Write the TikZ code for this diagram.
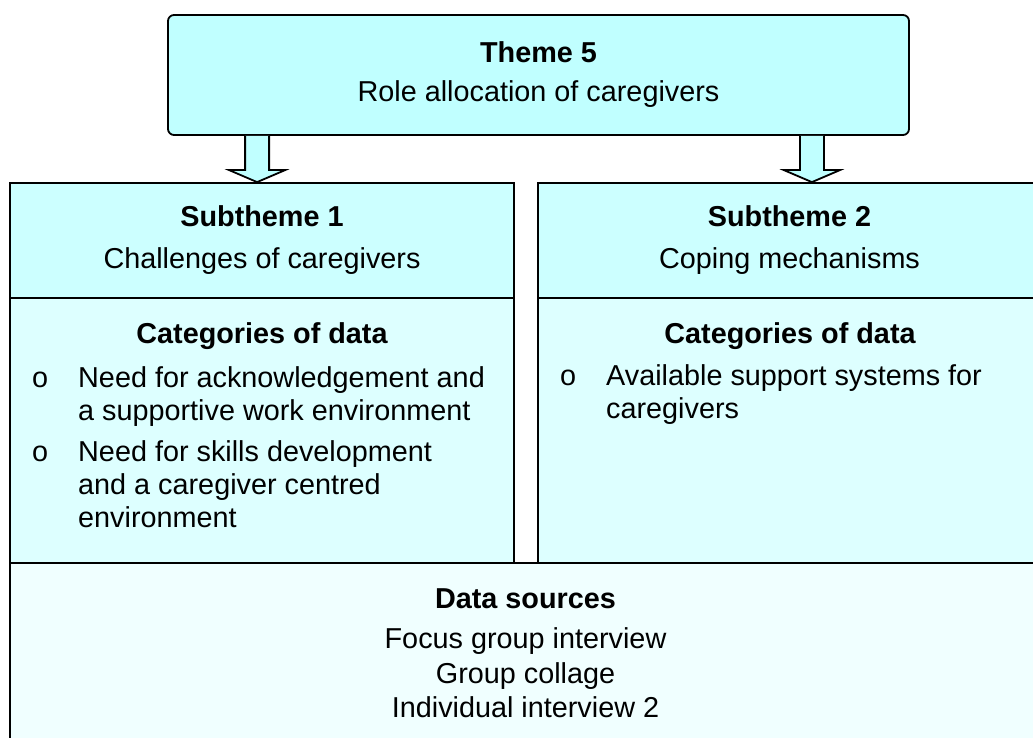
\documentclass[tikz,border=0pt]{standalone}
\usepackage{fontspec}
\setmainfont{Liberation Sans}
\usetikzlibrary{calc}

\definecolor{themefill}{HTML}{C0FFFF}
\definecolor{subfill}{HTML}{CCFFFF}
\definecolor{catfill}{HTML}{DDFFFF}
\definecolor{srcfill}{HTML}{F0FFFF}

\tikzset{
  panel/.style={draw=black, line width=1.8pt, inner sep=0pt},
  bigtext/.style={font=\fontsize{28.8}{33}\selectfont, inner sep=0pt},
  boldtext/.style={font=\fontsize{28.8}{33}\selectfont\bfseries, inner sep=0pt},
  arrowshape/.style={draw=black, line width=1.8pt, fill=themefill, line join=miter},
}

% block arrow from a coordinate on the theme box down to a box
\newcommand{\blockarrow}[2]{%
  \draw[arrowshape] let \p1=(#1), \p2=(#1 |- #2.north) in
    (\x1-12pt,\y1) -- (\x1-12pt,\y2+12pt) -- (\x1-28pt,\y2+12pt) -- (\x1,\y2)
    -- (\x1+28pt,\y2+12pt) -- (\x1+12pt,\y2+12pt) -- (\x1+12pt,\y1);
}

\begin{document}
\begin{tikzpicture}[x=1pt,y=-1pt]
    \useasboundingbox (0,0) rectangle (1033,738);
    \clip (0,0) rectangle (1033,738);

    % boxes
    \node[panel, fill=subfill, minimum width=504pt, minimum height=115pt,
          align=center, font=\fontsize{28.8}{42}\selectfont] (sub1) at (262,240.5)
          {{\bfseries Subtheme 1}\\Challenges of caregivers};
    \node[panel, fill=subfill, minimum width=503pt, minimum height=115pt,
          align=center, font=\fontsize{28.8}{42}\selectfont] (sub2) at (789.5,240.5)
          {{\bfseries Subtheme 2}\\Coping mechanisms};
    \node[panel, fill=catfill, minimum width=504pt, minimum height=265pt] (cat1) at (262,430.5) {};
    \node[panel, fill=catfill, minimum width=503pt, minimum height=265pt] (cat2) at (789.5,430.5) {};
    \node[panel, fill=srcfill, minimum width=1031pt, minimum height=200pt] (src) at (525.5,663) {};

    % theme and arrows
    \node[panel, fill=themefill, rounded corners=6pt, minimum width=741pt, minimum height=120pt,
          align=center, font=\fontsize{28.8}{39}\selectfont] (theme) at (538.5,75)
          {{\bfseries Theme 5}\\Role allocation of caregivers};
    \path (theme.south west) ++(90,0) coordinate (a1);
    \path (theme.south east) ++(-98,0) coordinate (a2);
    \blockarrow{a1}{sub1}
    \blockarrow{a2}{sub2}

    % categories, left
    \node[boldtext, anchor=base] (cat1title) at (262,343) {Categories of data};
    \node[bigtext, anchor=base west] (bul11) at (32,387) {o};
    \node[bigtext, anchor=north west, align=left] (item11) at (78,366)
          {Need for acknowledgement and\\a supportive work environment};
    \node[bigtext, anchor=base west] (bul12) at (32,461) {o};
    \node[bigtext, anchor=north west, align=left] (item12) at (78,440)
          {Need for skills development\\and a caregiver centred\\environment};

    % categories, right
    \node[boldtext, anchor=base] (cat2title) at (790,343) {Categories of data};
    \node[bigtext, anchor=base west] (bul21) at (560,385) {o};
    \node[bigtext, anchor=north west, align=left] (item21) at (606,364)
          {Available support systems for\\caregivers};

    % data sources
    \node[boldtext, anchor=base] (srctitle) at (525.5,608) {Data sources};
    \node[anchor=north, align=center, inner sep=0pt, font=\fontsize{28.8}{34.5}\selectfont] (srclist) at (525.5,627.5)
          {Focus group interview\\Group collage\\Individual interview 2};

\end{tikzpicture}
\end{document}
